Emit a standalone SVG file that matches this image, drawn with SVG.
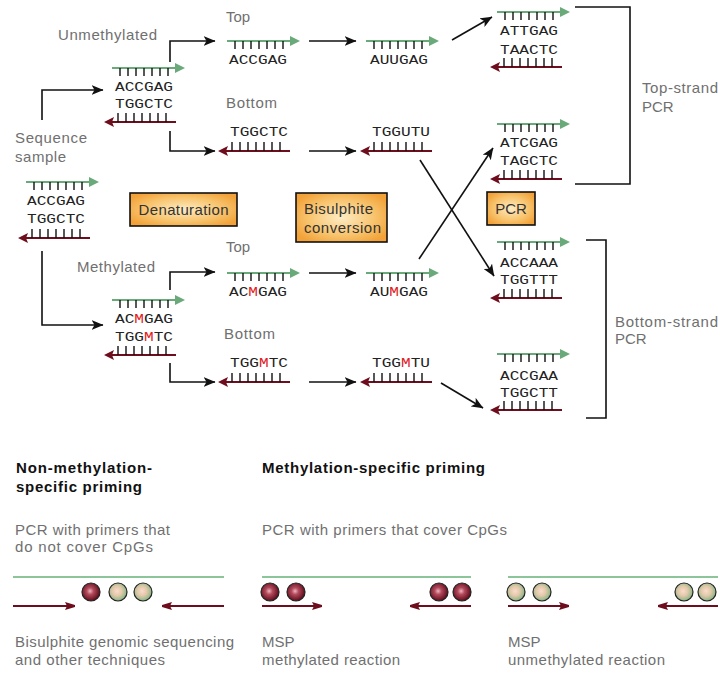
<svg xmlns="http://www.w3.org/2000/svg" width="720" height="673" viewBox="0 0 720 673">
<style>
.lbl{font-family:"Liberation Sans",Arial,sans-serif;font-size:15px;fill:#707070}
.hd{font-family:"Liberation Sans",Arial,sans-serif;font-size:15px;font-weight:bold;fill:#111}
.seq{font-family:"Liberation Mono","Courier New",monospace;font-size:12px;fill:#222}
.m{fill:#e0201c}
.box{stroke:#111;stroke-width:1.6;fill:url(#og)}
.btxt{font-family:"Liberation Sans",Arial,sans-serif;font-size:15px;fill:#333}
.con{fill:none;stroke:#111;stroke-width:1.6;marker-end:url(#ah)}
.brk{fill:none;stroke:#111;stroke-width:1.6}
.gl{stroke:#8cc59a;stroke-width:2}
.ra{stroke:#6e0d1c;stroke-width:2;marker-end:url(#rh)}
.cr{fill:url(#rg);stroke:#222;stroke-width:1.2}
.cg{fill:url(#gg);stroke:#222;stroke-width:1.2}
</style>
<defs>
<marker id="ah" viewBox="0 0 12 10" refX="11.5" refY="5" markerWidth="12" markerHeight="10" markerUnits="userSpaceOnUse" orient="auto"><path d="M0,0 L12,5 L0,10 L3,5 z" fill="#111"/></marker>
<marker id="rh" viewBox="0 0 10 8" refX="10" refY="4" markerWidth="10" markerHeight="8" markerUnits="userSpaceOnUse" orient="auto"><path d="M0,0 L10,3 L10,5 L0,8 L2,4 z" fill="#6e0d1c"/></marker>
<radialGradient id="og" cx="50%" cy="50%" r="60%"><stop offset="0" stop-color="#fdecc4"/><stop offset="0.6" stop-color="#f8c46e"/><stop offset="1" stop-color="#f2a238"/></radialGradient>
<radialGradient id="rg" cx="45%" cy="45%" r="55%"><stop offset="0" stop-color="#eeb4c0"/><stop offset="0.35" stop-color="#b34a5c"/><stop offset="1" stop-color="#5e0b1a"/></radialGradient>
<radialGradient id="gg" cx="45%" cy="45%" r="55%"><stop offset="0" stop-color="#fbdccc"/><stop offset="0.5" stop-color="#e0c8a8"/><stop offset="1" stop-color="#86b486"/></radialGradient>
<g id="ts">
<line x1="0" y1="0" x2="66" y2="0" stroke="#6aa97a" stroke-width="2"/>
<polygon points="63,-5 73,0 63,5" fill="#6aa97a"/>
<path d="M8,0v8M16,0v8M24,0v8M32,0v8M40,0v8M48,0v8M56,0v8" stroke="#111" stroke-width="1.4"/>
</g>
<g id="bs">
<line x1="5" y1="0" x2="72" y2="0" stroke="#6e0d1c" stroke-width="2"/>
<polygon points="0,0 10,-5 8,0 10,5" fill="#6e0d1c"/>
<path d="M14,0v-9M22,0v-9M30,0v-9M38,0v-9M46,0v-9M54,0v-9M62,0v-9" stroke="#111" stroke-width="1.4"/>
</g>
</defs>

<g id="connectors">
<path class="con" d="M42,120 V90 H103"/>
<path class="con" d="M42,251 V325 H103"/>
<path class="con" d="M170,62 V41 H215"/>
<path class="con" d="M170,131 V151 H215"/>
<path class="con" d="M170,290 V272 H215"/>
<path class="con" d="M170,363 V382 H215"/>
<path class="con" d="M309,41 H356"/>
<path class="con" d="M309,151 H356"/>
<path class="con" d="M309,273 H356"/>
<path class="con" d="M309,382 H356"/>
<path class="con" d="M452,40 L492,17"/>
<path class="con" d="M420,160 L494,276"/>
<path class="con" d="M419,259 L493,148"/>
<path class="con" d="M441,383 L483,408"/>
</g>

<g id="labels">
<text class="lbl" x="58" y="40" textLength="99">Unmethylated</text>
<text class="lbl" x="15" y="143" textLength="72">Sequence</text>
<text class="lbl" x="15" y="162" textLength="51">sample</text>
<text class="lbl" x="77" y="272" textLength="78">Methylated</text>
<text class="lbl" x="226" y="22">Top</text>
<text class="lbl" x="226" y="108" textLength="51">Bottom</text>
<text class="lbl" x="226" y="252">Top</text>
<text class="lbl" x="224" y="339" textLength="51">Bottom</text>
</g>

<g id="node-sample">
<use href="#ts" x="26" y="182"/>
<text class="seq" x="27" y="205" textLength="58" lengthAdjust="spacingAndGlyphs">ACCGAG</text>
<text class="seq" x="27" y="223" textLength="58" lengthAdjust="spacingAndGlyphs">TGGCTC</text>
<use href="#bs" x="18" y="238"/>
</g>

<g id="node-unmeth">
<use href="#ts" x="112" y="68"/>
<text class="seq" x="115" y="91" textLength="58" lengthAdjust="spacingAndGlyphs">ACCGAG</text>
<text class="seq" x="115" y="108" textLength="58" lengthAdjust="spacingAndGlyphs">TGGCTC</text>
<use href="#bs" x="104" y="122"/>
</g>

<g id="node-meth">
<use href="#ts" x="112" y="300"/>
<text class="seq" x="115" y="323" textLength="58" lengthAdjust="spacingAndGlyphs">AC<tspan class="m">M</tspan>GAG</text>
<text class="seq" x="115" y="341" textLength="58" lengthAdjust="spacingAndGlyphs">TGG<tspan class="m">M</tspan>TC</text>
<use href="#bs" x="104" y="355"/>
</g>

<g id="node-top-u1">
<use href="#ts" x="227" y="41"/>
<text class="seq" x="229" y="64" textLength="58" lengthAdjust="spacingAndGlyphs">ACCGAG</text>
</g>
<g id="node-top-u2">
<use href="#ts" x="366" y="41"/>
<text class="seq" x="370" y="64" textLength="58" lengthAdjust="spacingAndGlyphs">AUUGAG</text>
</g>
<g id="node-bot-u1">
<text class="seq" x="230" y="136" textLength="58" lengthAdjust="spacingAndGlyphs">TGGCTC</text>
<use href="#bs" x="218" y="151"/>
</g>
<g id="node-bot-u2">
<text class="seq" x="372" y="136" textLength="58" lengthAdjust="spacingAndGlyphs">TGGUTU</text>
<use href="#bs" x="360" y="151"/>
</g>

<g id="node-top-m1">
<use href="#ts" x="227" y="273"/>
<text class="seq" x="229" y="296" textLength="58" lengthAdjust="spacingAndGlyphs">AC<tspan class="m">M</tspan>GAG</text>
</g>
<g id="node-top-m2">
<use href="#ts" x="366" y="273"/>
<text class="seq" x="370" y="296" textLength="58" lengthAdjust="spacingAndGlyphs">AU<tspan class="m">M</tspan>GAG</text>
</g>
<g id="node-bot-m1">
<text class="seq" x="230" y="367" textLength="58" lengthAdjust="spacingAndGlyphs">TGG<tspan class="m">M</tspan>TC</text>
<use href="#bs" x="218" y="382"/>
</g>
<g id="node-bot-m2">
<text class="seq" x="372" y="367" textLength="58" lengthAdjust="spacingAndGlyphs">TGG<tspan class="m">M</tspan>TU</text>
<use href="#bs" x="360" y="382"/>
</g>

<g id="node-pcr1">
<use href="#ts" x="497" y="12"/>
<text class="seq" x="500" y="35" textLength="58" lengthAdjust="spacingAndGlyphs">ATTGAG</text>
<text class="seq" x="500" y="54" textLength="58" lengthAdjust="spacingAndGlyphs">TAACTC</text>
<use href="#bs" x="490" y="67"/>
</g>
<g id="node-pcr2">
<use href="#ts" x="497" y="124"/>
<text class="seq" x="500" y="147" textLength="58" lengthAdjust="spacingAndGlyphs">ATCGAG</text>
<text class="seq" x="500" y="165" textLength="58" lengthAdjust="spacingAndGlyphs">TAGCTC</text>
<use href="#bs" x="490" y="179"/>
</g>
<g id="node-pcr3">
<use href="#ts" x="497" y="242"/>
<text class="seq" x="500" y="267" textLength="58" lengthAdjust="spacingAndGlyphs">ACCAAA</text>
<text class="seq" x="500" y="284" textLength="58" lengthAdjust="spacingAndGlyphs">TGGTTT</text>
<use href="#bs" x="490" y="298"/>
</g>
<g id="node-pcr4">
<use href="#ts" x="497" y="354"/>
<text class="seq" x="500" y="380" textLength="58" lengthAdjust="spacingAndGlyphs">ACCGAA</text>
<text class="seq" x="500" y="397" textLength="58" lengthAdjust="spacingAndGlyphs">TGGCTT</text>
<use href="#bs" x="490" y="410"/>
</g>

<g id="box-denaturation">
<rect class="box" x="130" y="193" width="107" height="33"/>
<text class="btxt" x="183.5" y="215" text-anchor="middle" textLength="90">Denaturation</text>
</g>
<g id="box-bisulphite">
<rect class="box" x="296" y="193" width="91" height="49"/>
<text class="btxt" x="304" y="214" textLength="69">Bisulphite</text>
<text class="btxt" x="304" y="233" textLength="77">conversion</text>
</g>
<g id="box-pcr">
<rect class="box" x="487" y="192" width="48" height="33"/>
<text class="btxt" x="511" y="214" text-anchor="middle">PCR</text>
</g>

<g id="bracket-top">
<path class="brk" d="M575,7 H630 V184 H575"/>
<text class="lbl" x="642" y="93" textLength="76">Top-strand</text>
<text class="lbl" x="642" y="112">PCR</text>
</g>
<g id="bracket-bottom">
<path class="brk" d="M586,240 H606 V418 H586"/>
<text class="lbl" x="615" y="327" textLength="103">Bottom-strand</text>
<text class="lbl" x="615" y="344">PCR</text>
</g>

<g id="panel-nonspecific">
<text class="hd" x="16" y="473" textLength="136">Non-methylation-</text>
<text class="hd" x="16" y="492" textLength="126">specific priming</text>
<text class="lbl" x="15" y="535" textLength="155">PCR with primers that</text>
<text class="lbl" x="15" y="552" textLength="138">do not cover CpGs</text>
<line class="gl" x1="13" y1="577" x2="224" y2="577"/>
<circle class="cr" cx="91" cy="592" r="9"/>
<circle class="cg" cx="118" cy="592" r="9"/>
<circle class="cg" cx="143" cy="592" r="9"/>
<line class="ra" x1="13" y1="606" x2="75" y2="606"/>
<line class="ra" x1="224" y1="606" x2="162" y2="606"/>
<text class="lbl" x="15" y="647" textLength="219">Bisulphite genomic sequencing</text>
<text class="lbl" x="15" y="665" textLength="150">and other techniques</text>
</g>

<g id="panel-msp-m">
<text class="hd" x="262" y="473" textLength="223">Methylation-specific priming</text>
<text class="lbl" x="262" y="535" textLength="245">PCR with primers that cover CpGs</text>
<line class="gl" x1="262" y1="577" x2="471" y2="577"/>
<circle class="cr" cx="270" cy="592" r="9"/>
<circle class="cr" cx="296" cy="592" r="9"/>
<circle class="cr" cx="439" cy="592" r="9"/>
<circle class="cr" cx="462" cy="592" r="9"/>
<line class="ra" x1="262" y1="606" x2="322" y2="606"/>
<line class="ra" x1="471" y1="606" x2="410" y2="606"/>
<text class="lbl" x="262" y="647">MSP</text>
<text class="lbl" x="262" y="665" textLength="138">methylated reaction</text>
</g>

<g id="panel-msp-u">
<line class="gl" x1="508" y1="577" x2="718" y2="577"/>
<circle class="cg" cx="516" cy="592" r="9"/>
<circle class="cg" cx="542" cy="592" r="9"/>
<circle class="cg" cx="684" cy="592" r="9"/>
<circle class="cg" cx="707" cy="592" r="9"/>
<line class="ra" x1="508" y1="606" x2="569" y2="606"/>
<line class="ra" x1="718" y1="606" x2="658" y2="606"/>
<text class="lbl" x="508" y="647">MSP</text>
<text class="lbl" x="508" y="665" textLength="157">unmethylated reaction</text>
</g>
</svg>
